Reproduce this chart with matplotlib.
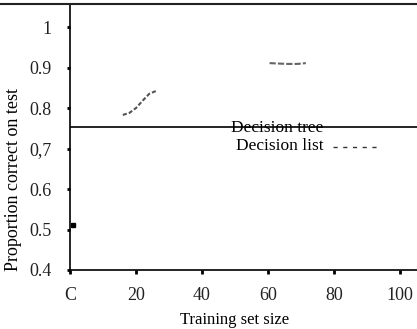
import matplotlib
matplotlib.use("Agg")
import matplotlib.pyplot as plt
from matplotlib.lines import Line2D

plt.rcParams['font.family'] = ['Liberation Serif', 'DejaVu Serif']

# data
list_x = [16, 18, 20, 22, 24, 26]
list_y = [0.783, 0.788, 0.800, 0.818, 0.835, 0.842]
tree_x = [60.5, 63, 66, 69, 71.5]
tree_y = [0.911, 0.910, 0.909, 0.909, 0.911]
start_x = [0.8]
start_y = [0.51]
ref_level = 0.753
xticks = [0, 20, 40, 60, 80, 100]
xtick_labels = ['C', '20', '40', '60', '80', '100']
yticks = [0.4, 0.5, 0.6, 0.7, 0.8, 0.9, 1.0]
ytick_labels = ['0.4', '0.5', '0.6', '0,7', '0.8', '0.9', '1']

fig = plt.figure(figsize=(4.17, 3.29), dpi=100)
ax = fig.add_axes([70/417, (329-270)/329, 347/417, 266/329])
ax.set_xlim(0, 105.2)
ax.set_ylim(0.4, 1.057)

ax.plot(list_x, list_y, color='#555555', lw=1.5, ls=(0, (2, 1)))
ax.plot(tree_x, tree_y, color='#666666', lw=1.5, ls=(0, (3, 1)))
ax.plot(start_x, start_y, marker='s', color='black', ms=3, ls='none')
ax.axhline(ref_level, color='black', lw=1.2)

for s in ['right', 'top']:
    ax.spines[s].set_visible(False)
ax.spines['left'].set_linewidth(1.2)
ax.spines['bottom'].set_linewidth(1.2)

ax.set_xticks(xticks)
ax.set_xticklabels(xtick_labels, fontsize=13, color='#222222')
ax.set_yticks(yticks)
ax.set_yticklabels(ytick_labels, fontsize=13, color='#222222')
ax.tick_params(axis='x', direction='out', length=3, width=2, pad=9)
ax.tick_params(axis='y', direction='out', length=2, width=2, pad=11)

ax.set_xlabel('Training set size', fontsize=12)
ax.xaxis.set_label_coords(0.475, -42/266)
ax.set_ylabel('Proportion correct on test', fontsize=13)
ax.yaxis.set_label_coords(-48/347, 0.34)

# top line across the whole figure
fig.add_artist(Line2D([0, 1], [1-4/329, 1-4/329], transform=fig.transFigure, color='#222222', lw=1.5))

# legend texts
fig.text(277/417, 1-128/329, 'Decision tree', fontsize=12.5, ha='center', va='center')
fig.text(280/417, 1-146/329, 'Decision list', fontsize=12.5, ha='center', va='center')
fig.add_artist(Line2D([333/417, 380/417], [1-147/329, 1-147/329], transform=fig.transFigure,
                      color='#333333', lw=1, ls=(0, (3, 4))))

fig.savefig('out.png', dpi=100)
